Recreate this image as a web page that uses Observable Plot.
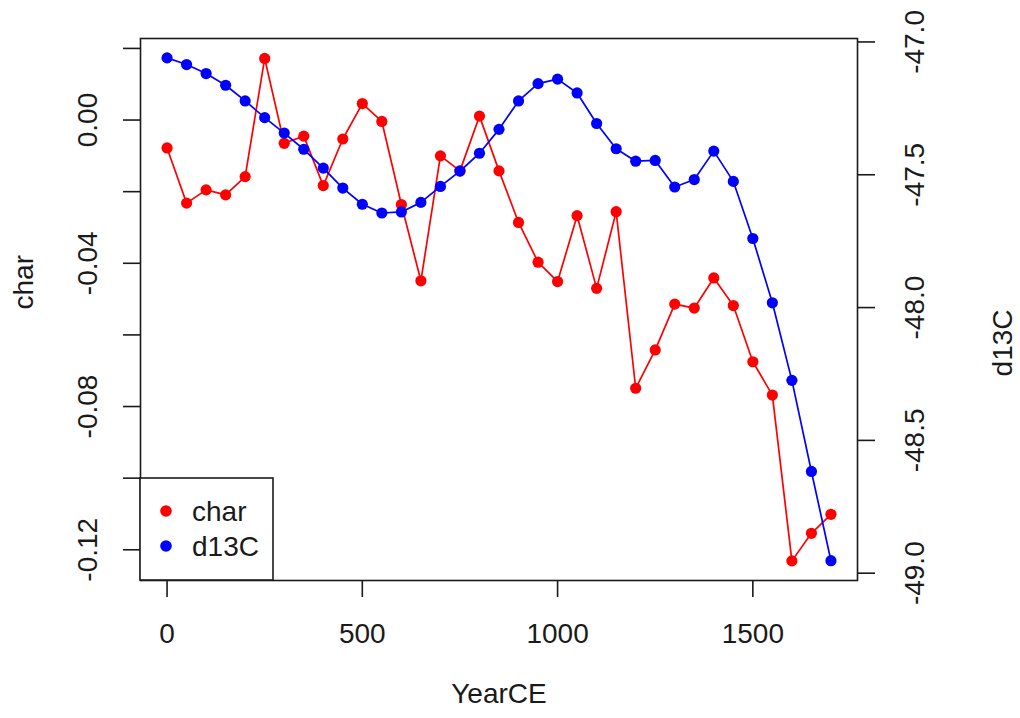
<!DOCTYPE html>
<html>
<head>
<meta charset="utf-8">
<script src="https://cdn.jsdelivr.net/npm/d3@7"></script>
<script src="https://cdn.jsdelivr.net/npm/@observablehq/plot@0.6"></script>
<style>
  html, body { margin: 0; padding: 0; background: #fff; }
  #chart { width: 1020px; height: 718px; }
</style>
</head>
<body>
<div id="chart"></div>
<script>
// ---- data ----
const years = [0, 50, 100, 150, 200, 250, 300, 350, 400, 450, 500, 550, 600, 650, 700, 750, 800, 850,
  900, 950, 1000, 1050, 1100, 1150, 1200, 1250, 1300, 1350, 1400, 1450, 1500, 1550, 1600, 1650, 1700];
const charVals = [-0.0078, -0.0232, -0.0195, -0.0209, -0.0158, 0.0172, -0.0065, -0.0045, -0.0183, -0.0053,
  0.0046, -0.0004, -0.0236, -0.0449, -0.0100, -0.0142, 0.0011, -0.0142, -0.0286, -0.0397,
  -0.0451, -0.0267, -0.0470, -0.0256, -0.0749, -0.0642, -0.0514, -0.0525, -0.0441, -0.0518,
  -0.0675, -0.0768, -0.1231, -0.1154, -0.1101];
const d13cVals = [-47.060, -47.085, -47.119, -47.163, -47.222, -47.285, -47.343, -47.404, -47.475, -47.550,
  -47.611, -47.644, -47.640, -47.604, -47.544, -47.486, -47.419, -47.329, -47.222, -47.157,
  -47.140, -47.192, -47.307, -47.402, -47.449, -47.446, -47.546, -47.518, -47.411, -47.525,
  -47.740, -47.982, -48.274, -48.617, -48.953];
const xTicks = [0, 500, 1000, 1500];
const leftTicks = [0.02, 0, -0.02, -0.04, -0.06, -0.08, -0.10, -0.12];
const leftLabels = [0, -0.04, -0.08, -0.12];
const rightTicks = [-47.0, -47.5, -48.0, -48.5, -49.0];
const seriesNames = ["char", "d13C"];
const seriesColors = ["#ff0000", "#0000ff"];

// ---- scales (R style 4% padding) ----
const xDomain = [-68, 1768];
const charDomain = [-0.12858, 0.02277];
const d13cDomain = [-49.0275, -46.987];
const d2c = d => charDomain[0] + (d - d13cDomain[0]) * (charDomain[1] - charDomain[0]) / (d13cDomain[1] - d13cDomain[0]);

const rows = years.map((yr, i) => ({year: yr, char: charVals[i], d13c: d13cVals[i]}));

const FONT = "'Liberation Sans', Arial, Helvetica, sans-serif";
const FS = 28;
const INK = "#1a1a1a";
const SW = 1.6;

const svg = Plot.plot({
  width: 1020,
  height: 718,
  marginTop: 38,
  marginBottom: 138,
  marginLeft: 140,
  marginRight: 163,
  style: {fontFamily: FONT, fontSize: FS + "px", background: "#fff", color: INK},
  x: {domain: xDomain, axis: null},
  y: {domain: charDomain, axis: null},
  marks: [
    Plot.line(rows, {x: "year", y: "char", stroke: seriesColors[0], strokeWidth: 1.7}),
    Plot.dot(rows, {x: "year", y: "char", r: 5.6, fill: seriesColors[0], stroke: "none"}),
    Plot.line(rows, {x: "year", y: d => d2c(d.d13c), stroke: seriesColors[1], strokeWidth: 1.7}),
    Plot.dot(rows, {x: "year", y: d => d2c(d.d13c), r: 5.6, fill: seriesColors[1], stroke: "none"}),
    Plot.frame({stroke: INK, strokeWidth: SW}),
    Plot.axisX(xTicks, {tickSize: 17, tickPadding: 26, fontSize: FS, label: null, stroke: INK, strokeWidth: SW, fill: INK, tickFormat: d => String(d)}),
    Plot.axisY(leftTicks, {anchor: "left", tickSize: 17, label: null, tickFormat: () => "", stroke: INK, strokeWidth: SW}),
    Plot.text(leftLabels, {y: d => d, text: d => d.toFixed(2), frameAnchor: "left", dx: -52, rotate: -90, fontSize: FS, lineAnchor: "middle", textAnchor: "middle", fill: INK}),
    Plot.axisY(rightTicks.map(d2c), {anchor: "right", tickSize: 17, label: null, tickFormat: () => "", stroke: INK, strokeWidth: SW}),
    Plot.text(rightTicks, {y: d => d2c(d), text: d => d.toFixed(1), frameAnchor: "right", dx: 58, rotate: -90, fontSize: FS, lineAnchor: "middle", textAnchor: "middle", fill: INK}),
    Plot.text(["YearCE"], {text: d => d, frameAnchor: "bottom", dy: 114, fontSize: FS, lineAnchor: "middle", fill: INK}),
    Plot.text(["char"], {text: d => d, frameAnchor: "left", dx: -116, rotate: -90, fontSize: FS, lineAnchor: "middle", fill: INK}),
    Plot.text(["d13C"], {text: d => d, frameAnchor: "right", dx: 146, rotate: -90, fontSize: FS, lineAnchor: "middle", fill: INK})
  ]
});

// ---- legend box (bottom-left corner of the frame) ----
const legend = {left: 140, top: 478, width: 133, height: 102, dotX: 26, firstY: 33, stepY: 35, textX: 52};
const g = d3.select(svg).append("g").attr("font-family", FONT).attr("font-size", FS).attr("text-anchor", "start");
g.append("rect")
  .attr("x", legend.left).attr("y", legend.top)
  .attr("width", legend.width).attr("height", legend.height)
  .attr("fill", "#fff").attr("stroke", INK).attr("stroke-width", SW);
seriesNames.forEach((name, i) => {
  const cy = legend.top + legend.firstY + i * legend.stepY;
  g.append("circle").attr("cx", legend.left + legend.dotX).attr("cy", cy).attr("r", 5.8).attr("fill", seriesColors[i]);
  g.append("text").attr("x", legend.left + legend.textX).attr("y", cy).attr("dy", "0.35em")
    .attr("text-anchor", "start").attr("fill", INK).text(name);
});

document.getElementById("chart").appendChild(svg);
</script>
</body>
</html>
